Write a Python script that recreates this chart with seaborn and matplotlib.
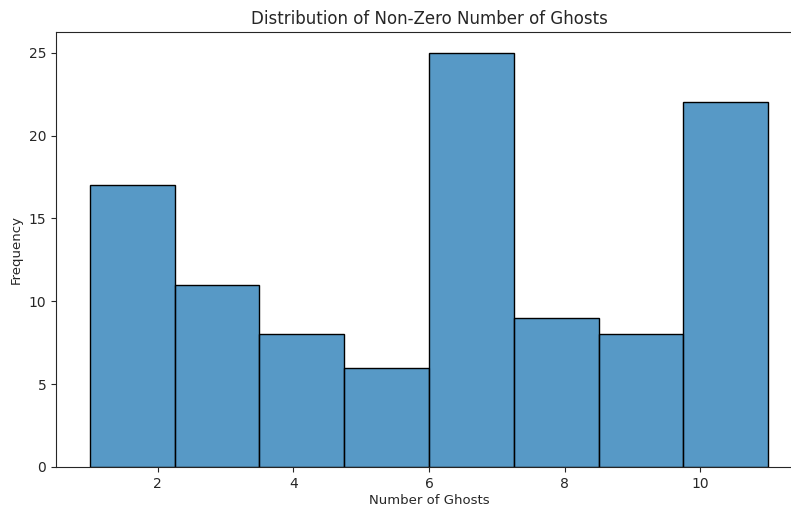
import matplotlib
matplotlib.use("Agg")
import matplotlib.pyplot as plt
import seaborn as sns
import numpy as np

# Histogram bins of number of ghosts (8 bins spanning 1..11)
bin_centers = [1.625, 2.875, 4.125, 5.375, 6.625, 7.875, 9.125, 10.375]
bin_counts = [17, 11, 8, 6, 25, 9, 8, 22]

grey = "#262626"
plt.rcParams.update({
    "text.color": grey, "axes.labelcolor": grey,
    "xtick.color": grey, "ytick.color": grey,
    "axes.edgecolor": grey,
})

dpi = 100
W, H = 791, 507
fig = plt.figure(figsize=(W / dpi, H / dpi), dpi=dpi)
ax = fig.add_axes([56 / W, 1 - 467 / H, 746 / W, 435 / H])

sns.histplot(x=bin_centers, weights=bin_counts, bins=8, binrange=(1, 11), ax=ax,
             edgecolor="black", linewidth=1)

ax.set_title("Distribution of Non-Zero Number of Ghosts", fontsize=12)
ax.set_xlabel("Number of Ghosts", fontsize=9.5, labelpad=2.5)
ax.set_ylabel("Frequency", fontsize=9.5)
ax.set_yticks([0, 5, 10, 15, 20, 25])
ax.set_xticks([2, 4, 6, 8, 10])
ax.tick_params(labelsize=10)

fig.savefig("out.png", dpi=dpi)
